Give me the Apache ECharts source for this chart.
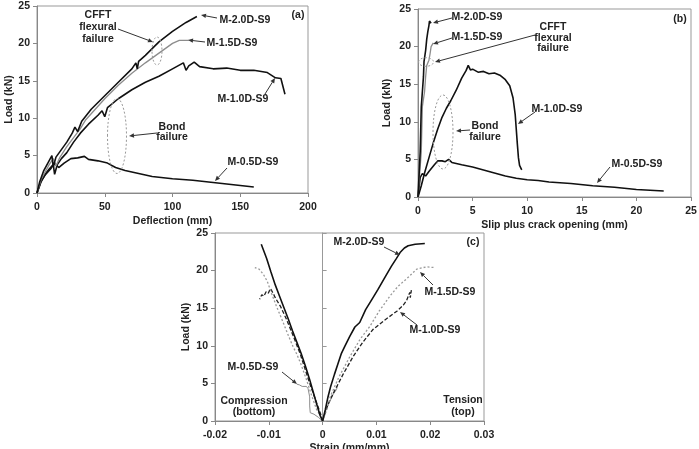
<!DOCTYPE html>
<html>
<head>
<meta charset="utf-8">
<title>Load curves</title>
<script src="https://cdn.jsdelivr.net/npm/echarts@6/dist/echarts.min.js"></script>
<style>body{margin:0;background:#fff;}</style>
</head>
<body>
<div id="main" style="width:699px;height:449px;"></div>
<script>
// (a) load vs deflection [mm, kN]
var defl20 = [[0,0],[2,1.5],[5,3],[8,4],[11,5],[12,3.5],[14,4.8],[18,5.8],[22,6.8],[26,8],[28,8.8],[30,8.2],[33,9.6],[40,11.2],[50,13],[60,14.8],[70,16.6],[73,17.4],[74,16.6],[75,17.6],[80,18.4],[90,20.2],[100,21.6],[110,22.8],[118,23.6]];
var defl15 = [[0,0],[3,1.8],[6,2.8],[9,3.8],[12,4.6],[14,3.6],[17,4.8],[22,6.2],[27,7.4],[32,8.6],[36,9.8],[40,10.6],[50,12.6],[60,14.4],[70,16],[80,17.4],[90,18.7],[100,20],[105,20.4],[112,20.4]];
var defl10 = [[0,0],[3,1.5],[6,2.5],[9,3.2],[12,3.8],[13,2.5],[15,3.8],[18,4.6],[22,5.4],[27,6.8],[32,8],[38,9.2],[45,10.4],[48,11],[50,10.2],[52,11.4],[60,12.6],[70,13.8],[80,14.8],[90,15.6],[100,16.6],[108,17.4],[110,16.4],[112,17],[116,17.5],[120,16.9],[130,16.6],[140,16.7],[150,16.4],[160,16.4],[170,16.1],[176,15.4],[180,15.3],[183,13.2]];
var defl05 = [[0,0],[3,1.6],[6,2.4],[10,3.2],[13,4],[16,3.4],[20,4],[25,4.6],[30,4.7],[35,4.9],[38,4.5],[45,4.3],[52,4.0],[58,3.4],[65,3.0],[75,2.6],[85,2.2],[100,1.9],[115,1.7],[130,1.4],[145,1.1],[160,0.8]];

// (b) load vs slip plus crack opening [mm, kN]
var slip20 = [[0,0],[0.1,3],[0.2,6],[0.25,9],[0.3,12],[0.4,14],[0.5,16],[0.55,18],[0.7,19.5],[0.8,21],[0.9,22],[1.0,22.8],[1.05,23.4],[1.2,23.1]];
var slip15 = [[0,0],[0.15,3],[0.3,6],[0.35,9],[0.4,12],[0.6,14],[0.7,16],[0.8,17.5],[1.0,18.2],[1.1,19],[1.2,20],[1.4,20.5]];
var slip10 = [[0,0],[0.3,1.5],[0.6,3.2],[1.0,5.2],[1.4,7.2],[1.8,9],[2.2,10.6],[2.6,11.8],[3.0,12.8],[3.5,14.2],[4.0,15.8],[4.4,16.8],[4.6,17.5],[4.8,16.9],[5.0,17.0],[5.5,16.6],[6.0,16.7],[6.5,16.4],[7.0,16.5],[7.5,16.2],[8.0,15.6],[8.4,14.8],[8.7,13.2],[8.9,11],[9.0,9],[9.1,7],[9.2,5.2],[9.3,4.2],[9.5,3.6]];
var slip05 = [[0,0],[0.2,2.6],[0.4,3.1],[0.7,2.8],[1.0,3.4],[1.5,4.3],[1.8,4.8],[2.2,4.8],[2.5,4.7],[2.8,5.0],[3.1,4.6],[4,4.3],[5,4.0],[6,3.6],[7,3.2],[8,2.8],[9,2.5],[10,2.3],[11,2.2],[12,2.0],[14,1.8],[16,1.5],[18,1.3],[20,1.0],[22.5,0.8]];

// (c) load vs strain, compression (bottom) and tension (top)
var str20C = [[0,0],[-0.0005,0.8],[-0.0012,2.5],[-0.0018,4],[-0.0024,5.5],[-0.0032,7.3],[-0.004,9],[-0.0048,10.5],[-0.0056,12],[-0.0064,13.6],[-0.0072,15.1],[-0.008,16.6],[-0.0088,18.1],[-0.0096,19.8],[-0.0104,21.6],[-0.0114,23.5]];
var str20T = [[0,0],[0.0005,1.5],[0.001,3.2],[0.0015,4.6],[0.0022,6.2],[0.0029,7.7],[0.0035,9],[0.0041,9.9],[0.005,11.2],[0.006,12.5],[0.0069,13.1],[0.008,14.8],[0.0092,16.2],[0.0103,17.5],[0.0115,19],[0.0128,20.6],[0.0137,21.6],[0.0144,22.4],[0.0152,23],[0.0159,23.3],[0.0172,23.5],[0.019,23.6]];
var str15C = [[0,0],[-0.0005,0.8],[-0.0011,1.5],[-0.002,3.3],[-0.003,5.5],[-0.004,7.5],[-0.0048,8.9],[-0.0055,9.9],[-0.0065,11.6],[-0.0075,13.4],[-0.0086,15.3],[-0.0095,17],[-0.0103,18.6],[-0.011,19.5],[-0.0118,20.2],[-0.0126,20.4]];
var str15T = [[0,0],[0.001,2],[0.0014,3.2],[0.003,5.8],[0.0051,8.6],[0.007,10.9],[0.0088,12.6],[0.0105,14.6],[0.0125,16.6],[0.014,17.9],[0.0156,18.9],[0.0175,20.2],[0.0193,20.5],[0.0209,20.4]];
var str10C = [[0,0],[-0.0004,1],[-0.0008,1.8],[-0.0016,3.4],[-0.0024,5],[-0.0033,7],[-0.0042,9],[-0.0054,11.2],[-0.0067,13.5],[-0.0078,15.2],[-0.0088,16.4],[-0.0092,17.0],[-0.0097,17.6],[-0.0101,17.0],[-0.0105,17.2],[-0.0109,16.6],[-0.0113,16.8],[-0.0117,16.2]];
var str10T = [[0,0],[0.001,2.2],[0.002,3.7],[0.0038,6.2],[0.0057,8.6],[0.0075,10.5],[0.0094,12.2],[0.0115,13.4],[0.0138,14.6],[0.015,15.4],[0.0156,16],[0.0162,17.1],[0.0163,16.4],[0.0165,17.4]];
var str05C = [[0,0],[-0.0008,0.5],[-0.0016,0.9],[-0.0023,1.1],[-0.0024,2.0],[-0.0024,3.2],[-0.0027,4.3],[-0.003,4.6],[-0.0038,4.6],[-0.0043,4.8],[-0.0048,4.9]];
var str05T = [[0,0],[0.0004,1],[0.0008,1.8],[0.0012,2.4],[0.0016,3],[0.002,3.6],[0.0023,3.4],[0.0026,4.2],[0.0028,4.8]];

var loadTicks = [0, 25, 5];   // min, max, step of every load axis
var FONT = 'Arial, "Liberation Sans", sans-serif';
var INK = '#222';

var myChart = echarts.init(document.getElementById('main'));

function xAx(grid, min, max, step, name, gap) {
    return {
        gridIndex: grid, type: 'value', min: min, max: max, interval: step,
        name: name, nameLocation: 'middle', nameGap: gap,
        nameTextStyle: {color: INK, fontWeight: 'bold', fontSize: 10.5, fontFamily: FONT},
        axisLine: {lineStyle: {color: '#888'}},
        axisTick: {length: 4, lineStyle: {color: '#888'}},
        axisLabel: {color: INK, fontWeight: 'bold', fontSize: 10.5, fontFamily: FONT, margin: 9,
            formatter: function (v) { return Math.abs(v) < 1e-9 ? '0' : String(+v.toFixed(3)); }},
        splitLine: {show: false}
    };
}
function yAx(grid, gap) {
    return {
        gridIndex: grid, type: 'value', min: loadTicks[0], max: loadTicks[1], interval: loadTicks[2],
        name: 'Load (kN)', nameLocation: 'middle', nameGap: gap,
        nameTextStyle: {color: INK, fontWeight: 'bold', fontSize: 10.5, fontFamily: FONT},
        axisLine: {onZero: false, lineStyle: {color: '#888'}},
        axisTick: {length: 4, lineStyle: {color: '#888'}},
        axisLabel: {color: INK, fontWeight: 'bold', fontSize: 10.5, fontFamily: FONT, margin: 7},
        splitLine: {show: false}
    };
}
function line(data, grid, color, width, dash) {
    return {
        type: 'line', data: data, xAxisIndex: grid, yAxisIndex: grid,
        showSymbol: false, symbol: 'none', animation: false,
        lineStyle: {color: color, width: width, type: dash || 'solid'}
    };
}

// annotation helpers (pixel positions)
function txt(s, x, y) {
    return {type: 'text', style: {text: s, x: x, y: y, align: 'center', verticalAlign: 'middle',
        font: 'bold 10.5px ' + FONT, fill: INK}, z: 10};
}
function arrow(x1, y1, x2, y2) {
    var a = Math.atan2(y2 - y1, x2 - x1), L = 5, w = 2.2;
    var bx = x2 - L * Math.cos(a), by = y2 - L * Math.sin(a);
    return [
        {type: 'line', shape: {x1: x1, y1: y1, x2: bx, y2: by}, style: {stroke: '#333', lineWidth: 1}, z: 10},
        {type: 'polygon', shape: {points: [[x2, y2], [bx + w * Math.sin(a), by - w * Math.cos(a)], [bx - w * Math.sin(a), by + w * Math.cos(a)]]},
            style: {fill: '#333'}, z: 10}
    ];
}
function ell(cx, cy, rx, ry) {
    return {type: 'ellipse', shape: {cx: cx, cy: cy, rx: rx, ry: ry},
        style: {fill: 'none', stroke: '#999', lineWidth: 1, lineDash: [2, 2]}, z: 10};
}

var notes = [].concat(
    // (a)
    txt('(a)', 298, 15),
    txt('M-2.0D-S9', 245, 20), arrow(217, 18, 201, 15),
    txt('M-1.5D-S9', 232, 43), arrow(205, 42, 188, 40),
    txt('M-1.0D-S9', 243, 99), arrow(265, 94, 275, 78),
    txt('M-0.5D-S9', 253, 162), arrow(227, 168, 215, 181),
    txt('CFFT', 98, 15), txt('flexural', 98, 27), txt('failure', 98, 39),
    arrow(118, 29, 153, 42), ell(157, 51, 5, 14),
    txt('Bond', 172, 127), txt('failure', 172, 137),
    arrow(157, 133, 129, 136), ell(117, 136, 9.5, 37.5),
    // (b)
    txt('(b)', 680, 19),
    txt('M-2.0D-S9', 477, 17), arrow(452, 18, 433, 23),
    txt('M-1.5D-S9', 477, 37), arrow(452, 38, 433, 44),
    txt('CFFT', 553, 27), txt('flexural', 553, 38), txt('failure', 553, 48),
    arrow(535, 35, 435, 62), ell(426, 62, 7.5, 4.3),
    txt('M-1.0D-S9', 557, 109), arrow(535, 112, 518, 124),
    txt('Bond', 485, 126), txt('failure', 485, 137),
    arrow(470, 130, 456, 131), ell(443, 132, 10, 37),
    txt('M-0.5D-S9', 637, 164), arrow(610, 167, 597, 183),
    // (c)
    txt('(c)', 473, 242),
    txt('M-2.0D-S9', 359, 242), arrow(384, 247, 400, 255),
    txt('M-1.5D-S9', 450, 292), arrow(433, 285, 420, 272),
    txt('M-1.0D-S9', 435, 330), arrow(417, 325, 400, 312),
    txt('M-0.5D-S9', 253, 367), arrow(282, 372, 297, 384),
    txt('Compression', 254, 401), txt('(bottom)', 254, 412),
    txt('Tension', 463, 400), txt('(top)', 463, 412)
);

// frame around each panel; keep the plot boxes exactly where they are
var frame = {show: true, borderColor: '#999', borderWidth: 1, backgroundColor: 'transparent',
    containLabel: false, outerBoundsMode: 'none'};

option = {
    backgroundColor: '#fff',
    animation: false,
    grid: [
        echarts.util.extend({left: 37, top: 6, width: 271, height: 187}, frame),
        echarts.util.extend({left: 418, top: 9, width: 273, height: 188}, frame),
        echarts.util.extend({left: 215, top: 233, width: 269, height: 188}, frame)
    ],
    xAxis: [
        xAx(0, 0, 200, 50, 'Deflection (mm)', 23),
        xAx(1, 0, 25, 5, 'Slip plus crack opening (mm)', 23),
        xAx(2, -0.02, 0.03, 0.01, 'Strain (mm/mm)', 22)
    ],
    yAxis: [
        yAx(0, 21),
        yAx(1, 25),
        yAx(2, 23),
        // zero line of (c) with its own ticks
        {gridIndex: 2, type: 'value', min: loadTicks[0], max: loadTicks[1], interval: loadTicks[2],
         position: 'right',
         axisLine: {onZero: true, lineStyle: {color: '#999'}},
         axisTick: {length: 4, lineStyle: {color: '#999'}},
         axisLabel: {show: false}, splitLine: {show: false}}
    ],
    series: [
        line(defl05, 0, '#111', 1.6), line(defl10, 0, '#111', 1.6),
        line(defl15, 0, '#8c8c8c', 1.3), line(defl20, 0, '#111', 1.6),
        line(slip05, 1, '#111', 1.6), line(slip10, 1, '#111', 1.6),
        line(slip15, 1, '#8c8c8c', 1.3), line(slip20, 1, '#111', 1.6),
        line(str05C, 2, '#8c8c8c', 1), line(str05T, 2, '#8c8c8c', 1),
        line(str10C, 2, '#222', 1.3, [4, 2]), line(str10T, 2, '#222', 1.3, [4, 2]),
        line(str15C, 2, '#999', 1.3, [2, 2]), line(str15T, 2, '#999', 1.3, [2, 2]),
        line(str20C, 2, '#111', 1.6), line(str20T, 2, '#111', 1.6)
    ],
    graphic: notes
};

myChart.setOption(option);
</script>
</body>
</html>
